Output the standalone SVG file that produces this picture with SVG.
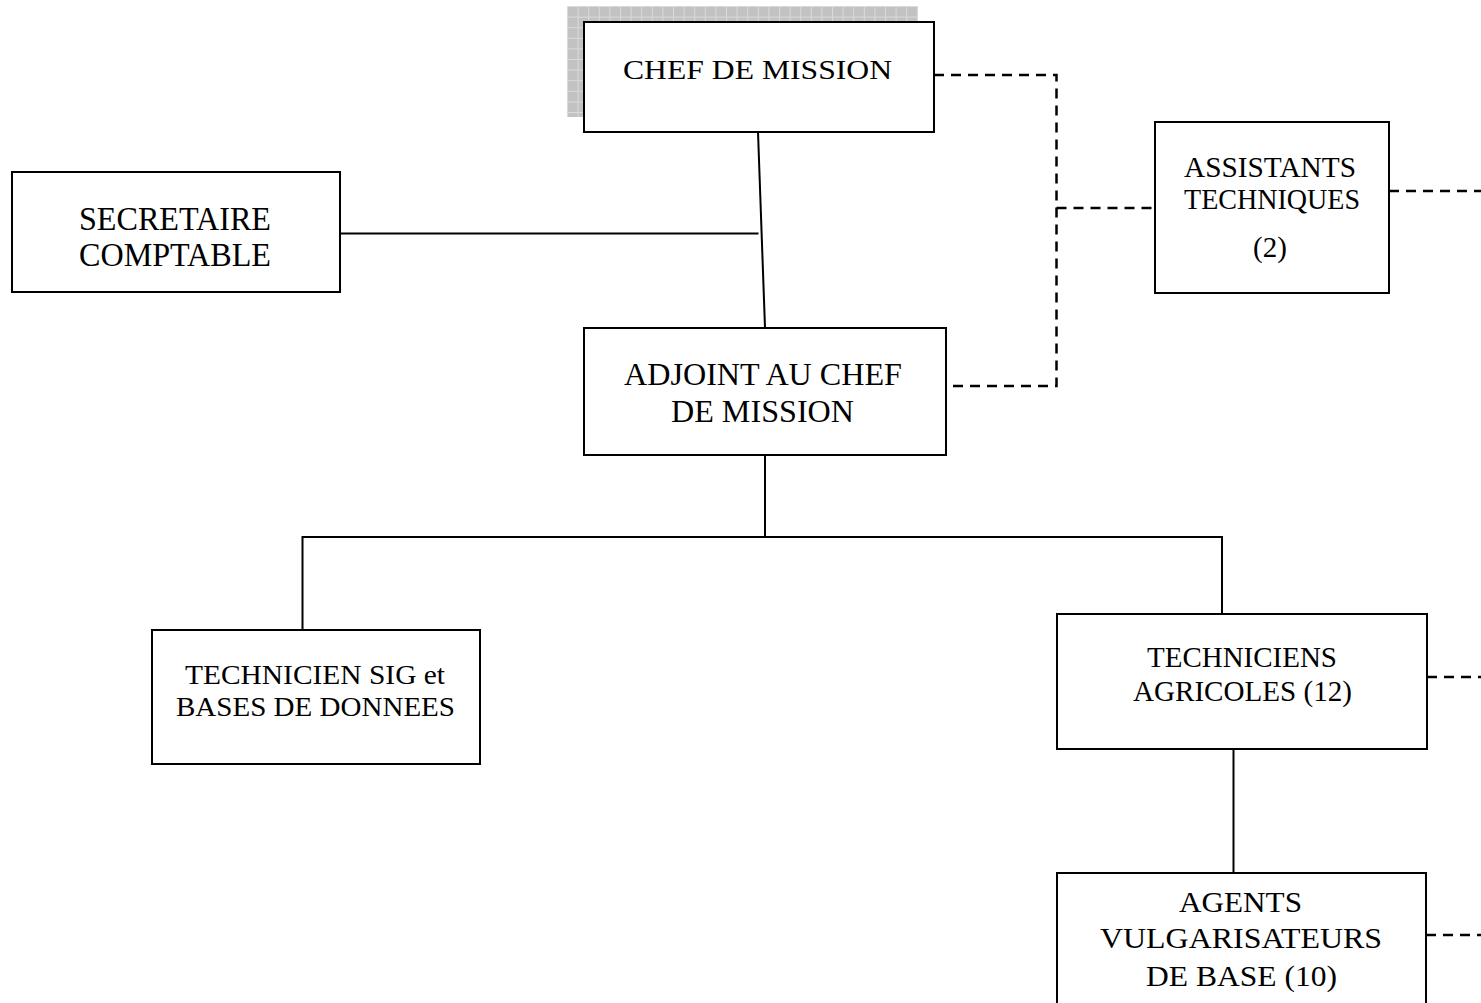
<svg xmlns="http://www.w3.org/2000/svg" width="1481" height="1003" viewBox="0 0 1481 1003">
<style>
.box{fill:#fff;stroke:#000;stroke-width:2}
.ln{fill:none;stroke:#000;stroke-width:2}
.dash{fill:none;stroke:#000;stroke-width:2.5;stroke-dasharray:10 7}
text{font-family:"Liberation Serif","Times New Roman",serif;fill:#000;text-anchor:middle}
</style>
<defs>
<pattern id="grid" x="567" y="6" width="10.6" height="10.6" patternUnits="userSpaceOnUse">
<rect width="10.6" height="10.6" fill="#c2c2c2"/>
<path d="M0 0.5H10.6M0.5 0V10.6" stroke="#dadada" stroke-width="1"/>
</pattern>
</defs>
<rect width="1481" height="1003" fill="#fff"/>
<g id="connectors">
<line class="ln" x1="758" y1="132" x2="765" y2="328"/>
<line class="ln" x1="340" y1="233.5" x2="758.5" y2="233.5"/>
<line class="ln" x1="765" y1="455" x2="765" y2="537"/>
<polyline class="ln" points="302.5,630 302.5,537 1222,537 1222,614"/>
<line class="ln" x1="1233.5" y1="749" x2="1233.5" y2="873"/>
<polyline class="dash" points="934,75 1056.5,75 1056.5,386 946,386"/>
<line class="dash" x1="1056.5" y1="208" x2="1155" y2="208"/>
<line class="dash" x1="1389" y1="191" x2="1481" y2="191"/>
<line class="dash" x1="1427" y1="677" x2="1481" y2="677"/>
<line class="dash" x1="1426" y1="935" x2="1481" y2="935"/>
</g>
<g id="chef">
<rect x="567" y="6" width="351" height="111" fill="url(#grid)"/>
<rect class="box" x="584" y="22" width="350" height="110"/>
<text x="757.5" y="79" font-size="28" textLength="269" lengthAdjust="spacingAndGlyphs">CHEF DE MISSION</text>
</g>
<g id="secretaire">
<rect class="box" x="12" y="172" width="328" height="120"/>
<text x="175" y="230" font-size="34" textLength="192" lengthAdjust="spacingAndGlyphs">SECRETAIRE</text>
<text x="175" y="266" font-size="34" textLength="192" lengthAdjust="spacingAndGlyphs">COMPTABLE</text>
</g>
<g id="adjoint">
<rect class="box" x="584" y="328" width="362" height="127"/>
<text x="763" y="385" font-size="32" textLength="278" lengthAdjust="spacingAndGlyphs">ADJOINT AU CHEF</text>
<text x="762.5" y="422" font-size="32" textLength="183" lengthAdjust="spacingAndGlyphs">DE MISSION</text>
</g>
<g id="assistants">
<rect class="box" x="1155" y="122" width="234" height="171"/>
<text x="1270" y="177" font-size="29" textLength="172" lengthAdjust="spacingAndGlyphs">ASSISTANTS</text>
<text x="1272" y="209" font-size="29" textLength="176" lengthAdjust="spacingAndGlyphs">TECHNIQUES</text>
<text x="1270" y="257" font-size="29">(2)</text>
</g>
<g id="technicien-sig">
<rect class="box" x="152" y="630" width="328" height="134"/>
<text x="315" y="684" font-size="27" textLength="260" lengthAdjust="spacingAndGlyphs">TECHNICIEN SIG et</text>
<text x="315.5" y="716" font-size="27" textLength="279" lengthAdjust="spacingAndGlyphs">BASES DE DONNEES</text>
</g>
<g id="techniciens-agricoles">
<rect class="box" x="1057" y="614" width="370" height="135"/>
<text x="1242" y="667" font-size="29" textLength="190" lengthAdjust="spacingAndGlyphs">TECHNICIENS</text>
<text x="1242.5" y="701" font-size="29" textLength="219" lengthAdjust="spacingAndGlyphs">AGRICOLES (12)</text>
</g>
<g id="agents">
<rect class="box" x="1057" y="873" width="369" height="140"/>
<text x="1240.5" y="912" font-size="29" textLength="123" lengthAdjust="spacingAndGlyphs">AGENTS</text>
<text x="1241" y="948" font-size="29" textLength="282" lengthAdjust="spacingAndGlyphs">VULGARISATEURS</text>
<text x="1241.5" y="986" font-size="29" textLength="191" lengthAdjust="spacingAndGlyphs">DE BASE (10)</text>
</g>
</svg>
